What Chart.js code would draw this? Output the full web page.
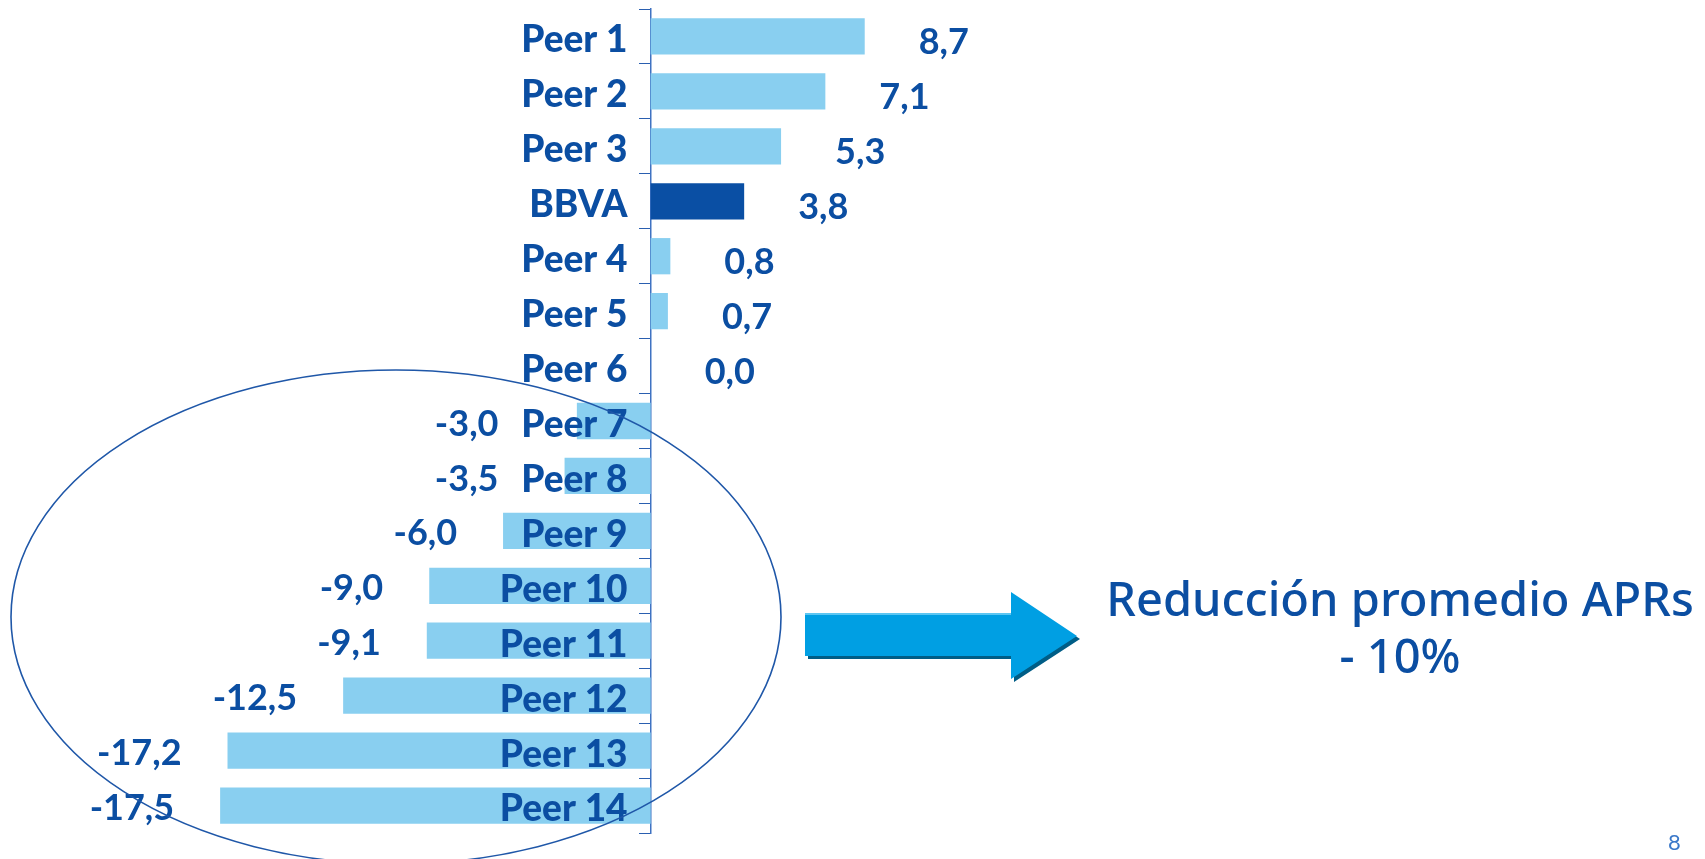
<!DOCTYPE html>
<html>
<head>
<meta charset="utf-8">
<script src="https://cdn.jsdelivr.net/npm/chart.js@4/dist/chart.umd.min.js"></script>
<style>
  html, body { margin: 0; padding: 0; background: #fff; }
  #wrap { position: relative; width: 1705px; height: 859px; overflow: hidden; }
  #note {
    position: absolute; left: 1090px; top: 570px; width: 620px;
    text-align: center; color: #0b4ea2; font-family: "Noto Sans", sans-serif;
    font-weight: 500; font-size: 47px; line-height: 57px;
  }
  #page { position: absolute; left: 1668px; top: 828px; color: #3a78c9; font-family: Lato, sans-serif; font-size: 22px; }
</style>
</head>
<body>
<div id="wrap">
  <canvas id="apr" width="1705" height="859"></canvas>
  <div id="note">Reducción promedio APRs<br>- 10%</div>
  <div id="page">8</div>
</div>
<script>
const peers = ["Peer 1", "Peer 2", "Peer 3", "BBVA", "Peer 4", "Peer 5", "Peer 6", "Peer 7",
  "Peer 8", "Peer 9", "Peer 10", "Peer 11", "Peer 12", "Peer 13", "Peer 14"];
const aprChange = [8.7, 7.1, 5.3, 3.8, 0.8, 0.7, 0.0, -3.0, -3.5, -6.0, -9.0, -9.1, -12.5, -17.2, -17.5];

const textBlue = "#0b4ea2";
const lightBar = "#89cff0";
const bbvaBar = "#0a4fa4";
const labelFont = "900 37px Lato";

// value labels, spanish decimal comma
const valueLabels = {
  id: "valueLabels",
  afterDatasetsDraw(chart) {
    const ctx = chart.ctx;
    const meta = chart.getDatasetMeta(0);
    const zeroX = chart.scales.x.getPixelForValue(0);
    ctx.save();
    ctx.textBaseline = "middle";
    ctx.fillStyle = textBlue;
    meta.data.forEach((bar, i) => {
      const v = aprChange[i];
      const txt = v.toFixed(1).replace(".", ",");
      if (v >= 0) {
        ctx.font = "bold 36px Lato";
        ctx.textAlign = "left";
        ctx.fillText(txt, bar.x + 54, bar.y + 6);
      } else {
        // keep clear of the peer name sitting on the bar
        ctx.font = labelFont;
        const nameLeft = zeroX - 24 - ctx.measureText(peers[i]).width;
        ctx.font = "bold 36px Lato";
        ctx.textAlign = "right";
        ctx.fillText(txt, Math.min(bar.x - 46, nameLeft - 22), bar.y + 3);
      }
    });
    ctx.restore();
  }
};

// circled group + arrow
const decorations = {
  id: "decorations",
  afterDraw(chart) {
    const ctx = chart.ctx;
    ctx.save();
    ctx.strokeStyle = "#1f57a8";
    ctx.lineWidth = 1.6;
    ctx.beginPath();
    ctx.ellipse(396, 617, 385, 247, 0, 0, Math.PI * 2);
    ctx.stroke();

    const arrow = (dx, dy) => {
      ctx.beginPath();
      ctx.moveTo(805 + dx, 613 + dy);
      ctx.lineTo(1011 + dx, 613 + dy);
      ctx.lineTo(1011 + dx, 592 + dy);
      ctx.lineTo(1077 + dx, 636 + dy);
      ctx.lineTo(1011 + dx, 679 + dy);
      ctx.lineTo(1011 + dx, 656 + dy);
      ctx.lineTo(805 + dx, 656 + dy);
      ctx.closePath();
      ctx.fill();
    };
    ctx.fillStyle = "#005d86";
    arrow(3, 3);
    ctx.fillStyle = "#009fe3";
    arrow(0, 0);
    ctx.fillStyle = "#5cc6f2";
    ctx.fillRect(805, 613, 206, 2);
    ctx.restore();
  }
};

const ctx = document.getElementById("apr").getContext("2d");
new Chart(ctx, {
  type: "bar",
  data: {
    labels: peers,
    datasets: [{
      data: aprChange,
      backgroundColor: peers.map((p) => (p === "BBVA" ? bbvaBar : lightBar)),
      borderWidth: 0,
      barPercentage: 0.66,
      categoryPercentage: 1
    }]
  },
  options: {
    indexAxis: "y",
    responsive: false,
    animation: false,
    layout: { padding: { top: 9, bottom: 26, left: 11, right: 21 } },
    plugins: { legend: { display: false }, tooltip: { enabled: false } },
    scales: {
      x: { type: "linear", min: -26, max: 42, display: false },
      y: {
        type: "category",
        position: { x: 0 },
        border: { display: true, color: "#3f72c2", width: 1.5 },
        grid: { drawOnChartArea: false, drawTicks: true, tickLength: 11, color: "#2a5fb0", offset: true },
        ticks: {
          z: 1,
          padding: 0,
          labelOffset: 4,
          color: textBlue,
          font: { family: "Lato", size: 37, weight: 900 },
          callback: function (value) { return this.getLabelForValue(value) + "\u2002\u2009"; }
        },
        afterFit: (scale) => { scale.paddingTop = 0; scale.paddingBottom = 0; }
      }
    }
  },
  plugins: [valueLabels, decorations]
});
</script>
</body>
</html>
